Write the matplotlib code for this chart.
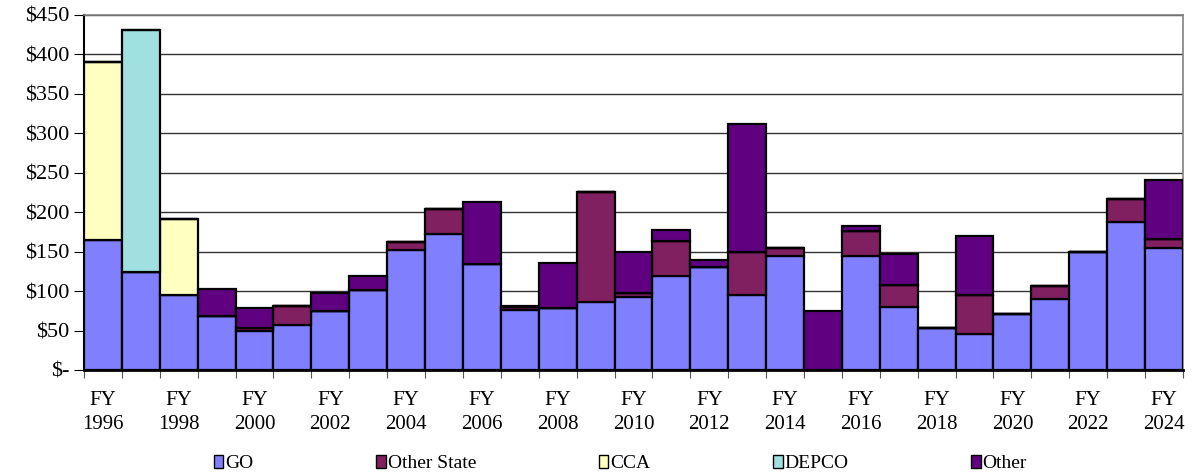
import numpy as np
import matplotlib
matplotlib.use("Agg")
import matplotlib.pyplot as plt
from matplotlib.patches import Patch

# values in $ millions
years = list(range(1996, 2025))
go          = [165, 124, 95, 69, 49, 57, 75, 102, 152, 172, 134, 76, 79, 86, 93,
               119, 131, 95, 144, 0, 144, 80, 53, 45, 71, 90, 150, 187, 155]
other_state = [0, 0, 0, 0, 4, 24, 0, 0, 10, 32, 0, 4, 0, 140, 5,
               45, 0, 54, 11, 0, 32, 28, 0, 50, 0, 16, 0, 30, 11]
cca         = [225, 0, 97, 0, 0, 0, 0, 0, 0, 0, 0, 0, 0, 0, 0,
               0, 0, 0, 0, 0, 0, 0, 0, 0, 0, 0, 0, 0, 0]
depco       = [0, 307, 0, 0, 0, 0, 0, 0, 0, 0, 0, 0, 0, 0, 0,
               0, 0, 0, 0, 0, 0, 0, 0, 0, 0, 0, 0, 0, 0]
other       = [0, 0, 0, 34, 26, 0, 23, 17, 0, 0, 79, 1, 56, 0, 51,
               14, 8, 163, 0, 75, 6, 39, 0, 75, 0, 0, 0, 0, 75]

series = [("GO", go, "#8080FF"),
          ("Other State", other_state, "#802060"),
          ("CCA", cca, "#FFFFC0"),
          ("DEPCO", depco, "#A0E0E0"),
          ("Other", other, "#600080")]

plt.rcParams['font.family'] = ['Liberation Serif', 'DejaVu Serif']

fig = plt.figure(figsize=(11.93, 4.73), dpi=100)
ax = fig.add_axes([0.0704, 0.2178, 0.9212, 0.7505])

x = np.arange(len(years))
bottom = np.zeros(len(years))
for name, vals, col in series:
    v = np.array(vals, dtype=float)
    ax.bar(x, v, width=1.0, bottom=bottom, color=col, edgecolor='black',
           linewidth=1.6, zorder=3)
    bottom += v

ax.set_xlim(-0.5, len(years) - 0.5)
ax.set_ylim(0, 450)
yt = np.arange(0, 451, 50)
ax.set_yticks(yt)
ax.set_yticklabels(['$-'] + ['$%d' % v for v in yt[1:]], fontsize=16)
ax.yaxis.grid(True, color='#333333', linewidth=1.0, zorder=0)
ax.set_axisbelow(True)

# ticks at bar boundaries, labels every other year
ax.set_xticks(np.arange(len(years) + 1) - 0.5)
ax.set_xticklabels([])
ax.set_xticks(x[::2], minor=True)
ax.set_xticklabels(['FY\n%d' % y for y in years[::2]], minor=True, fontsize=15,
                   linespacing=1.35)
ax.tick_params(axis='x', which='major', direction='out', length=6, color='#555555')
ax.tick_params(axis='x', which='minor', length=0, pad=15)
ax.tick_params(axis='y', direction='out', length=7, color='black')

for s in ['top', 'right']:
    ax.spines[s].set_color('#808080')
    ax.spines[s].set_linewidth(1.2)
ax.spines['left'].set_linewidth(1.5)
ax.spines['bottom'].set_linewidth(2)

handles = [Patch(facecolor=c, edgecolor='black', label=n) for n, _, c in series]
fig.legend(handles=handles, loc='center', bbox_to_anchor=(0.52, 0.02), ncol=5,
           frameon=False, fontsize=14, handlelength=0.5, handleheight=0.7,
           handletextpad=0.1, columnspacing=6.3)

fig.savefig('out.png', dpi=100)
